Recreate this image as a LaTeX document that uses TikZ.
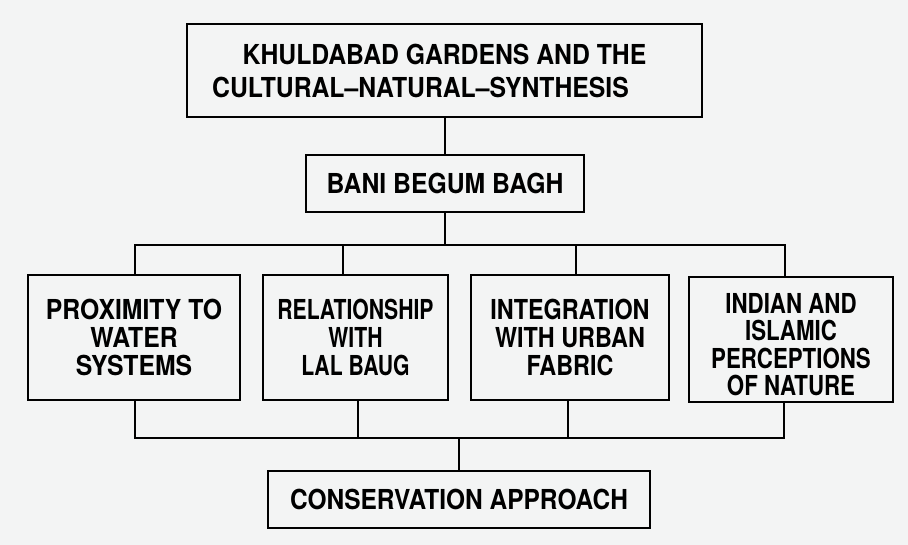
\documentclass[tikz,border=0pt]{standalone}
\usepackage{fontspec}
\setmainfont{TeX Gyre Heros}
\usetikzlibrary{calc}
\definecolor{paper}{RGB}{243,244,244}
\newcommand{\squeeze}[2][0.9]{\scalebox{#1}[1]{#2}}
% lowered line, keeps its own height so the box stays put
\newcommand{\lowline}[1]{\raisebox{-5pt}[\height][\depth]{\squeeze[0.81]{#1}}}
\tikzset{
    box/.style={draw=black,line width=2.6pt,inner sep=0pt,align=center,
        font=\bfseries\fontsize{27.5}{28}\selectfont},
    link/.style={draw=black,line width=2.2pt}
}

\begin{document}
\begin{tikzpicture}[x=1pt,y=-1pt]

% background, same size as the page
\fill[paper] (0,0) rectangle (908,545);

% title and garden
\node[box,minimum width=515pt,minimum height=93pt,
      font=\bfseries\fontsize{27.5}{33}\selectfont] (top) at (444.5,70.5)
    {\squeeze{KHULDABAD GARDENS AND THE}\\
     \squeeze{CULTURAL--NATURAL--SYNTHESIS}\hspace*{48pt}};
\node[box,minimum width=278pt,minimum height=57pt] (bani) at (445,183.5)
    {\squeeze{BANI BEGUM BAGH}};

% the four themes
\node[box,minimum width=212pt,minimum height=125pt] (prox) at (134,337.5)
    {\squeeze{PROXIMITY TO}\\\squeeze{WATER}\\\squeeze{SYSTEMS}};
\node[box,minimum width=185pt,minimum height=125pt] (rel) at (355.5,337.5)
    {\squeeze[0.77]{RELATIONSHIP}\\\squeeze[0.77]{WITH}\\\squeeze[0.77]{LAL BAUG}};
\node[box,minimum width=198pt,minimum height=125pt] (integ) at (570,337.5)
    {\squeeze[0.85]{INTEGRATION}\\\squeeze[0.85]{WITH URBAN}\\\squeeze[0.85]{FABRIC}};
\node[box,minimum width=204pt,minimum height=125pt,
      font=\bfseries\fontsize{27.5}{27.3}\selectfont] (indian) at (791,339.5)
    {\lowline{INDIAN AND}\\\lowline{ISLAMIC}\\
     \lowline{PERCEPTIONS}\\\lowline{OF NATURE}};

% outcome
\node[box,minimum width=382pt,minimum height=57pt] (cons) at (459,499.5)
    {\squeeze[0.89]{CONSERVATION APPROACH}};

% bus lines
\coordinate (upbus) at (0,245);
\coordinate (lowbus) at (0,438);

\draw[link] (bani.north) -- (bani.north |- top.south);
\draw[link] (bani.south) -- (bani.south |- upbus);
\draw[link] ([xshift=1pt]prox.north) |- ([xshift=-6pt]indian.north |- upbus)
    -- ([xshift=-6pt]indian.north);
\draw[link] ([xshift=-12.5pt]rel.north) -- ([xshift=-12.5pt]rel.north |- upbus);
\draw[link] ([xshift=6pt]integ.north) -- ([xshift=6pt]integ.north |- upbus);

\draw[link] ([xshift=1pt]prox.south) |- ([xshift=-7pt]indian.south |- lowbus)
    -- ([xshift=-7pt]indian.south);
\draw[link] ([xshift=2.5pt]rel.south) -- ([xshift=2.5pt]rel.south |- lowbus);
\draw[link] ([xshift=-2pt]integ.south) -- ([xshift=-2pt]integ.south |- lowbus);
\draw[link] (cons.north) -- (cons.north |- lowbus);

\end{tikzpicture}
\end{document}
